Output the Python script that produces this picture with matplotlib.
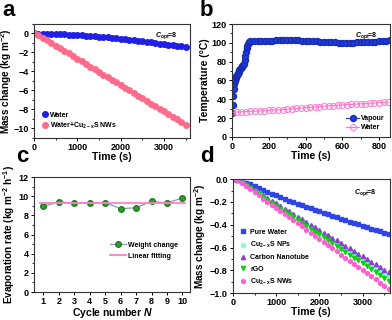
import matplotlib
matplotlib.use("Agg")
import matplotlib.pyplot as plt
from matplotlib.ticker import AutoMinorLocator

plt.rcParams['font.family'] = ['Liberation Sans', 'DejaVu Sans']
plt.rcParams['font.weight'] = 'bold'
plt.rcParams['axes.labelweight'] = 'bold'
plt.rcParams['mathtext.fontset'] = 'custom'
plt.rcParams['mathtext.rm'] = 'Liberation Sans:bold'
plt.rcParams['mathtext.bf'] = 'Liberation Sans:bold'
plt.rcParams['mathtext.it'] = 'Liberation Sans:italic:bold'
plt.rcParams['xtick.labelsize'] = 6.5
plt.rcParams['ytick.labelsize'] = 6.5
plt.rcParams['axes.labelsize'] = 7.5

# ---- panel a: mass change vs time ----
a_time = list(range(0, 3600, 100))
a_water = [0, -0.01, -0.02, -0.03, -0.05, -0.06, -0.08, -0.1, -0.12, -0.14, -0.17, -0.2,
           -0.23, -0.26, -0.29, -0.33, -0.37, -0.41, -0.45, -0.5, -0.55, -0.6, -0.65, -0.7,
           -0.76, -0.82, -0.88, -0.94, -1.0, -1.06, -1.12, -1.18, -1.24, -1.3, -1.35, -1.4]
a_nws = [0, -0.2, -0.45, -0.72, -1.0, -1.27, -1.55, -1.83, -2.1, -2.38, -2.66, -2.94,
         -3.21, -3.49, -3.77, -4.05, -4.33, -4.6, -4.88, -5.16, -5.44, -5.71, -5.99, -6.27,
         -6.55, -6.82, -7.1, -7.38, -7.66, -7.94, -8.21, -8.49, -8.77, -9.04, -9.32, -9.6]

# ---- panel b: temperature vs time ----
b_vap_time = [0, 3, 6, 9, 12, 15, 18, 21, 24, 27, 30, 33, 36, 40, 44, 48, 52, 56, 60, 64, 68,
              72, 76, 80, 84, 88, 92, 96, 100,
              120, 140, 160, 180, 200, 220, 240, 260, 280, 300, 320, 340, 360, 380, 400, 420,
              440, 460, 480, 500, 520, 540, 560, 580, 600, 620, 640, 660, 680, 700, 720, 740,
              760, 780, 800, 820, 840, 860]
b_vap_temp = [25, 34, 44, 51, 56, 59, 61, 63, 65, 66, 67, 68, 69, 71, 72, 73, 74, 75, 76, 78, 82,
              86, 90, 94, 97, 99, 100.5, 101, 101.5,
              101.5, 101.8, 102, 102, 102.2, 102.3, 102.5, 102.6, 102.8, 103, 103, 102.8, 102.5, 102.2,
              102, 101.8, 101.6, 101.5, 101.4, 101.2, 101, 100.8, 100.5, 100.3, 100.2, 100.1, 100.2,
              100.3, 100.4, 100.5, 100.7, 100.9, 101.1, 101.4, 101.7, 102, 102.3, 102.6]
b_wat_time = list(range(0, 875, 25))
b_wat_temp = [26, 26.5, 26.8, 27, 27.2, 27.4, 27.6, 27.9, 28.2, 28.5, 28.8, 29.1, 29.5, 29.9,
              30.3, 30.7, 31.1, 31.5, 31.9, 32.3, 32.7, 33.1, 33.4, 33.7, 34, 34.3, 34.6, 34.9,
              35.2, 35.5, 35.8, 36.1, 36.4, 36.7, 37]

# ---- panel c: evaporation rate per cycle ----
c_cycle = [1, 2, 3, 4, 5, 6, 7, 8, 9, 10]
c_rate = [8.95, 9.4, 9.3, 9.3, 9.33, 8.7, 8.8, 9.48, 9.3, 9.82]
c_fit_x = [0.75, 10.2]
c_fit_y = [9.27, 9.27]

# ---- panel d: mass change for different materials ----
d_time = list(range(0, 3700, 100))
d_pure = [0, -0.005, -0.015, -0.03, -0.046, -0.062, -0.078, -0.094, -0.11, -0.126, -0.142, -0.157,
          -0.172, -0.187, -0.201, -0.215, -0.229, -0.243, -0.256, -0.269, -0.282, -0.295, -0.308,
          -0.321, -0.334, -0.347, -0.36, -0.373, -0.385, -0.397, -0.409, -0.421, -0.433, -0.445,
          -0.457, -0.469, -0.481]
d_nps = [0, -0.009, -0.027, -0.051, -0.075, -0.100, -0.124, -0.148, -0.172, -0.196, -0.221, -0.245,
         -0.269, -0.293, -0.317, -0.342, -0.366, -0.390, -0.414, -0.438, -0.463, -0.487, -0.511,
         -0.535, -0.559, -0.584, -0.608, -0.632, -0.656, -0.680, -0.705, -0.729, -0.753, -0.777,
         -0.801, -0.826, -0.850]
d_cnt = [0, -0.008, -0.025, -0.048, -0.072, -0.095, -0.118, -0.142, -0.165, -0.188, -0.211, -0.235,
         -0.258, -0.281, -0.305, -0.328, -0.351, -0.375, -0.398, -0.421, -0.444, -0.468, -0.491,
         -0.514, -0.538, -0.561, -0.584, -0.608, -0.631, -0.654, -0.677, -0.701, -0.724, -0.747,
         -0.771, -0.794, -0.817]
d_rgo = [0, -0.01, -0.03, -0.055, -0.081, -0.106, -0.131, -0.157, -0.182, -0.207, -0.232, -0.258,
         -0.283, -0.308, -0.334, -0.359, -0.384, -0.410, -0.435, -0.460, -0.485, -0.511, -0.536,
         -0.561, -0.587, -0.612, -0.637, -0.663, -0.688, -0.713, -0.738, -0.764, -0.789, -0.814,
         -0.840, -0.865, -0.890]
d_nws = [0, -0.011, -0.033, -0.060, -0.088, -0.115, -0.142, -0.170, -0.197, -0.224, -0.251, -0.279,
         -0.306, -0.333, -0.361, -0.388, -0.415, -0.443, -0.470, -0.497, -0.524, -0.552, -0.579,
         -0.606, -0.634, -0.661, -0.688, -0.716, -0.743, -0.770, -0.797, -0.825, -0.852, -0.879,
         -0.907, -0.934, -0.961]

copt = r"$C_{\rm opt}$=8"
cu = r"Cu$_{\rm 2-x}$S"

fig = plt.figure(figsize=(3.92, 3.2), dpi=100)
axa = fig.add_axes([0.087, 0.569, 0.398, 0.356])
axb = fig.add_axes([0.592, 0.572, 0.403, 0.353])
axc = fig.add_axes([0.087, 0.0875, 0.398, 0.359])
axd = fig.add_axes([0.594, 0.084, 0.40, 0.356])

for ax in (axa, axb, axc, axd):
    ax.tick_params(which='major', direction='out', length=2.5, width=0.7, pad=1.2)
    ax.tick_params(which='minor', direction='out', length=1.5, width=0.6)
    for s in ax.spines.values():
        s.set_linewidth(0.8)
        s.set_color('#333333')

# a
axa.plot(a_time, a_water, 'o', ms=4, color='#1f1fe6', label='Water')
axa.plot(a_time, a_nws, 'o', ms=4, color='#ff6b8a', label='Water+' + cu + ' NWs')
axa.set_xlim(0, 3600)
axa.set_ylim(-11, 1)
axa.set_yticks([0, -2, -4, -6, -8, -10])
axa.xaxis.set_minor_locator(AutoMinorLocator(2))
axa.yaxis.set_minor_locator(AutoMinorLocator(2))
axa.set_xlabel('Time (s)', labelpad=0)
axa.set_ylabel(r'Mass change (kg m$^{-2}$)', labelpad=-0.5, fontsize=7.2)
axa.text(0.92, 0.9, copt, transform=axa.transAxes, fontsize=5, ha='right', va='center')
axa.legend(loc='lower left', fontsize=5, frameon=False, handletextpad=0.3,
           borderaxespad=0.6, labelspacing=0.3, handlelength=1.0)

# b
axb.plot(b_vap_time, b_vap_temp, '-o', ms=4.3, lw=0.8, color='#1a3de0', mec='#1a2bb0',
         label='Vapour')
axb.plot(b_wat_time, b_wat_temp, '-o', ms=4.3, lw=0.8, color='#ff77cc', mfc='none',
         mew=0.7, label='Water')
axb.set_xlim(0, 860)
axb.set_ylim(0, 120)
axb.set_xticks([0, 200, 400, 600, 800])
axb.xaxis.set_minor_locator(AutoMinorLocator(2))
axb.yaxis.set_minor_locator(AutoMinorLocator(2))
axb.set_xlabel('Time (s)', labelpad=0)
axb.set_ylabel('Temperature (°C)', labelpad=1)
axb.text(0.92, 0.9, copt, transform=axb.transAxes, fontsize=5, ha='right', va='center')
axb.legend(loc='lower right', fontsize=5, frameon=False, handletextpad=0.3,
           borderaxespad=0.4, labelspacing=0.3, handlelength=1.8)

# c
axc.plot(c_cycle, c_rate, '-o', ms=4, lw=0.9, color='#8c9aa8', mfc='#2ea02e',
         mec='#1f7a1f', label='Weight change')
axc.plot(c_fit_x, c_fit_y, '-', lw=1.3, color='#ff7fc8', label='Linear fitting')
axc.set_xlim(0.4, 10.5)
axc.set_ylim(0, 12)
axc.set_xticks(c_cycle)
axc.set_yticks([0, 2, 4, 6, 8, 10, 12])
axc.yaxis.set_minor_locator(AutoMinorLocator(2))
axc.set_xlabel(r'Cycle number $N$', labelpad=0)
axc.set_ylabel(r'Evaporation rate (kg m$^{-2}$ h$^{-1}$)', labelpad=1, fontsize=7.2)
axc.legend(loc='center right', bbox_to_anchor=(0.96, 0.36), fontsize=5, frameon=False,
           handletextpad=0.3, labelspacing=0.6, handlelength=2.2)

# d
axd.plot(d_time, d_pure, 's', ms=2.4, color='#2f45e8', label='Pure Water')
axd.plot(d_time, d_nps, 'o', ms=3, color='#7dffe0', label=cu + ' NPs')
axd.plot(d_time, d_cnt, '^', ms=3, color='#8a3fd0', label='Carbon Nanotube')
axd.plot(d_time, d_rgo, 'v', ms=3, color='#10d010', label='rGO')
axd.plot(d_time, d_nws, 'h', ms=3, color='#ff5fd0', label=cu + ' NWs')
axd.set_xlim(0, 3620)
axd.set_ylim(-1.0, 0.0)
axd.set_xticks([0, 1000, 2000, 3000])
axd.xaxis.set_minor_locator(AutoMinorLocator(2))
axd.yaxis.set_minor_locator(AutoMinorLocator(2))
axd.set_xlabel('Time (s)', labelpad=0)
axd.set_ylabel(r'Mass change (kg m$^{-2}$)', labelpad=1, fontsize=7.2)
axd.text(0.92, 0.88, copt, transform=axd.transAxes, fontsize=5, ha='right', va='center')
axd.legend(loc='lower left', fontsize=5, frameon=False, handletextpad=0.6,
           borderaxespad=0.5, labelspacing=0.6, handlelength=1.0)

# panel letters
fig.text(0.005, 1.0, 'a', fontsize=16, fontweight='bold', va='top')
fig.text(0.508, 1.0, 'b', fontsize=16, fontweight='bold', va='top')
fig.text(0.04, 0.545, 'c', fontsize=16, fontweight='bold', va='top')
fig.text(0.51, 0.545, 'd', fontsize=16, fontweight='bold', va='top')

fig.savefig('out.png', dpi=100)
